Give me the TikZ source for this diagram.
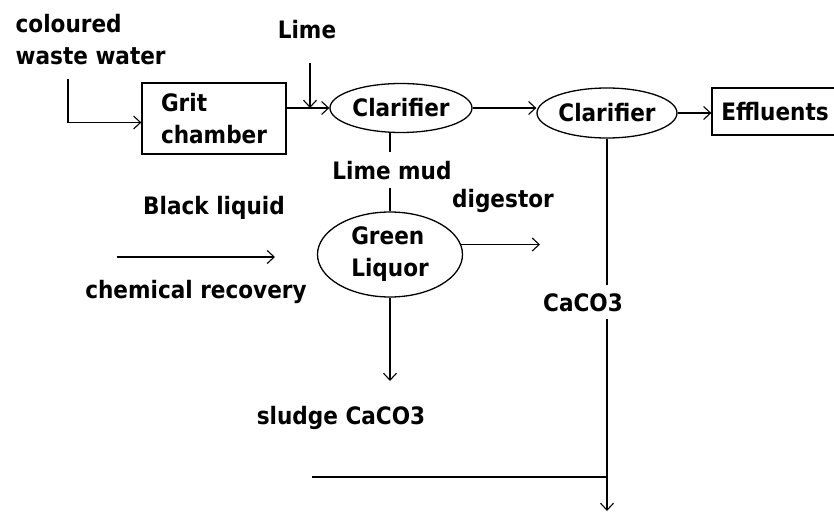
\documentclass[tikz,border=0pt]{standalone}
\usepackage{fontspec}
\setmainfont{DejaVu Sans Condensed}
\usetikzlibrary{shapes.geometric,arrows.meta}
\begin{document}
\begin{tikzpicture}[x=1pt,y=-1pt,
  every node/.style={font=\bfseries\fontsize{24}{32}\selectfont, inner sep=0pt},
  lbl/.style={anchor=base},
  box/.style={draw, rectangle, line width=1.3pt},
  ell/.style={draw, ellipse, line width=1.3pt},
  arr/.style={-{Straight Barb[length=7pt,width=13pt,line width=1.1pt]}},
  line width=1.4pt]
\useasboundingbox[fill=white] (0,0) rectangle (834,513);

% text labels
\node[anchor=base west] (col) at (15,33) {coloured};
\node[anchor=base west] (ww) at (15,65) {waste water};
\node[lbl] (lime) at (307,39) {Lime};
\node[lbl] (digest) at (503,207) {digestor};
\node[lbl] (black) at (214,214) {Black liquid};
\node[lbl] (chem) at (196,298) {chemical recovery};
\node[lbl] (sludge) at (341,424) {sludge CaCO3};

% process units
\node[box, minimum width=144pt, minimum height=71pt, align=left] (grit) at (214,118.5) {Grit\\chamber};
\node[ell, minimum width=142pt, minimum height=49pt] (c1) at (401,108) {Clarifier};
\node[ell, minimum width=140pt, minimum height=50pt] (c2) at (607,113) {Clarifier};
\node[box, minimum width=126pt, minimum height=47pt] (eff) at (775,111.5) {Effluents};
\node[ell, minimum width=145pt, minimum height=85pt, align=left] (green) at (390,254.5) {Green\\Liquor};

% coordinates for free ends
\coordinate (wwstart) at (68,79);
\coordinate (limestart) at (310,63);
\coordinate (bottom) at (606,511);
\coordinate (hstart) at (312,477);
\coordinate (bls) at (117,257);
\coordinate (ble) at (275,257);
\coordinate (gre) at (540,245);
\coordinate (sl) at (388,381);

% connectors
\draw[arr] (wwstart) |- ([yshift=-4pt]grit.west);
\draw[arr] (grit.east |- c1.west) -- (c1.west);
\draw[arr] (limestart) -- (limestart |- c1.west);
\draw[arr] (c1.east) -- (c2.west |- c1.east);
\draw[arr] (c2.east) -- (eff.west |- c2.east);
\draw[arr] (c2.south) -- (c2.south |- bottom);
\draw (hstart) -- (hstart -| c2.south);
\draw (green.north |- c1.south) -- (green.north);
\draw[arr] (bls) -- (ble);
\draw[arr] (green.8) -- (green.8 -| gre);
\draw[arr] (green.south) -- (green.south |- sl);

% labels on lines
\node[lbl, fill=white, inner xsep=3pt, inner ysep=9pt] (mud) at (392,179) {Lime mud};
\node[lbl, fill=white, inner xsep=3pt, inner ysep=8pt] (caco) at (583,311) {CaCO3};
\end{tikzpicture}
\end{document}
